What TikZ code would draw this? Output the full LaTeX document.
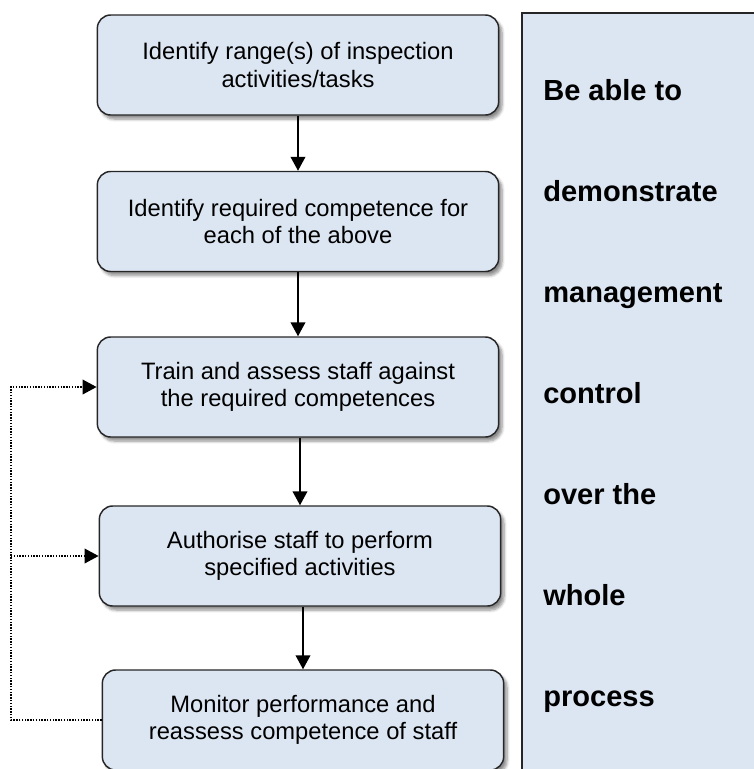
\documentclass[tikz,border=0pt]{standalone}
\usepackage{fontspec}
\setmainfont{Liberation Sans}
\usetikzlibrary{arrows.meta,shadows.blur}
\definecolor{boxfill}{HTML}{DCE6F2}
\definecolor{boxline}{HTML}{262626}

\begin{document}
\begin{tikzpicture}[x=0.75pt,y=-0.75pt,
        stage/.style = {rectangle,
            rounded corners=10pt,
            draw=boxline,
            line width=1.1pt,
            fill=boxfill,
            minimum width=301pt,
            minimum height=75pt,
            align=center,
            font=\fontsize{17.8}{20.5}\selectfont,
            blur shadow={shadow xshift=2.5pt, shadow yshift=-3pt,
                shadow blur steps=6, shadow opacity=45}
            },
        flow/.style = {line width=1.4pt,
            -{Triangle[width=11pt,length=10.5pt]}},
        feedback/.style = {line width=1.1pt, densely dotted,
            -{Triangle[width=11pt,length=10.5pt]}},
        aim/.style = {anchor=base west, inner sep=0pt,
            font=\fontsize{21.8}{24}\selectfont\bfseries}]

        \useasboundingbox (0,0) rectangle (754,769);
        \clip (0,0) rectangle (754,769);

        % Panel on the right
        \draw[line width=1.1pt, draw=boxline, fill=boxfill] (522,13) rectangle (780,790);
        \foreach \word [count=\i] in {Be able to, demonstrate, management,
                control, over the, whole, process}
            \node[aim] (aim\i) at (543,{100+101*(\i-1)}) {\word};

        % Stages
        \node[stage] (identify) at (298,65) {Identify range(s) of inspection\\activities/tasks};
        \node[stage] (require) at (298,221.5) {Identify required competence for\\each of the above};
        \node[stage] (train) at (298,387) {Train and assess staff against\\the required competences};
        \node[stage] (authorise) at (300,556) {Authorise staff to perform\\specified activities};
        \node[stage] (monitor) at (303,720) {Monitor performance and\\reassess competence of staff};

        % Arrows between stages
        \draw[flow] (identify) -- (require);
        \draw[flow] (require) -- (train);
        \draw[flow] (train.south -| authorise.north) -- (authorise.north);
        \draw[flow] (authorise.south -| monitor.north) -- (monitor.north);

        % Feedback loop
        \coordinate (loop) at (11,0);
        \draw[feedback] (monitor.west) -| (train.west -| loop) -- (train.west);
        \draw[feedback] (authorise.west -| loop) -- (authorise.west);

\end{tikzpicture}
\end{document}
